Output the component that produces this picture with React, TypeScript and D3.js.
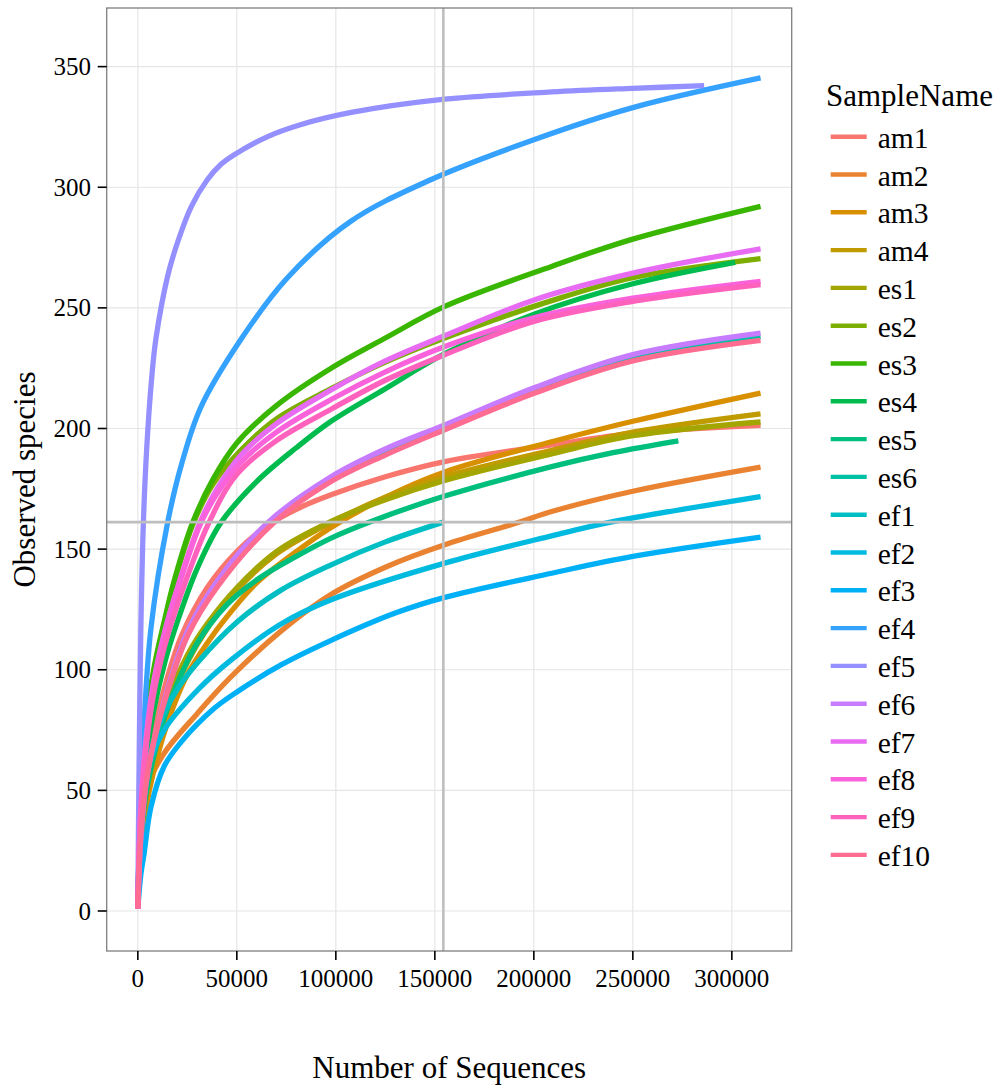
import React from "react";
import * as d3 from "d3";

// Rarefaction curves: observed species vs. number of sequences per sample.
type Pt = [number, number];

const sampleNames = [
  "am1", "am2", "am3", "am4",
  "es1", "es2", "es3", "es4", "es5", "es6",
  "ef1", "ef2", "ef3", "ef4", "ef5", "ef6", "ef7", "ef8", "ef9", "ef10",
];

const sampleColors = [
  "#F8766D", "#EA8331", "#D89000", "#C09B00", "#A3A500", "#7CAE00",
  "#39B600", "#00BB4E", "#00BF7D", "#00C1A3", "#00BFC4", "#00BAE0",
  "#00B0F6", "#35A2FF", "#9590FF", "#C77CFF", "#E76BF3", "#FA62DB",
  "#FF62BC", "#FF6C91",
];

const am1: Pt[] = [[1, 1], [1500, 32], [4000, 55], [8000, 74], [15000, 97], [22000, 114], [35000, 134], [50000, 149], [65000, 159.5], [80000, 166.5], [97600, 172.5], [125000, 180], [155000, 186.3], [209000, 193.2], [250000, 198], [314500, 201.3]];
const am2: Pt[] = [[1, 1], [1500, 28], [4900, 51.5], [13300, 65.4], [30200, 82], [47000, 97], [72300, 116], [97100, 131], [125000, 142.5], [155000, 151.8], [192000, 161], [209000, 165.6], [250000, 174], [314500, 184]];
const am3: Pt[] = [[1, 1], [1500, 25], [4000, 42], [8000, 58], [15000, 78], [25000, 98], [35000, 111], [45000, 122], [60000, 136], [80000, 149], [97600, 159], [125000, 171.5], [155000, 182], [209000, 194.5], [250000, 203], [314500, 214.7]];
const am4: Pt[] = [[1, 1], [1500, 28], [4000, 46], [8000, 63], [15000, 84], [25000, 103], [35000, 117], [50000, 133], [70000, 148], [97600, 161], [125000, 171.5], [155000, 180], [209000, 191], [250000, 198.5], [314500, 206.1]];
const es1: Pt[] = [[1, 1], [1500, 30], [4000, 49], [8000, 66], [15000, 87], [25000, 106], [35000, 119], [50000, 134], [70000, 149], [97600, 161.5], [125000, 170.5], [155000, 178.5], [209000, 189.5], [250000, 197], [314500, 202.7]];
const es2: Pt[] = [[1, 1], [1500, 45], [4500, 78], [8000, 99], [13600, 120], [18400, 136], [27700, 160], [38000, 177], [52100, 191], [70000, 204], [97600, 216.5], [125000, 227.5], [155000, 237.5], [209000, 253], [250000, 262.5], [314500, 270.4]];
const es3: Pt[] = [[1, 1], [1500, 45], [4500, 79], [8000, 100], [13600, 121], [18400, 137], [27700, 161], [38000, 179], [50000, 194], [70000, 209.5], [97600, 225], [125000, 237.5], [155000, 250.6], [209000, 267.2], [250000, 278.5], [314500, 292.1]];
const es4: Pt[] = [[1, 1], [1500, 37], [4500, 65], [8000, 83], [13600, 103], [20000, 120], [30000, 142], [42000, 161], [60000, 178], [80000, 192], [97600, 203], [125000, 216.5], [155000, 231], [200500, 247.5], [250000, 260], [301700, 268.9]];
const es5: Pt[] = [[1, 1], [1500, 30], [4000, 48], [8000, 64], [15000, 84], [30000, 111], [45000, 127], [60500, 137.5], [80000, 147], [97600, 154.6], [119500, 162], [155000, 172], [209000, 184.2], [240000, 190], [273000, 194.9]];
const es6: Pt[] = [[1, 1], [1500, 30], [4000, 51], [8000, 69], [15000, 91], [25100, 114.5], [40300, 135.5], [65600, 160], [97600, 179], [125000, 190.5], [155000, 200.5], [200500, 216], [250000, 229.5], [314500, 238.1]];
const ef1: Pt[] = [[1, 1], [1500, 32], [3500, 51], [6600, 66], [13300, 82], [20000, 92], [30200, 103], [50400, 120], [72300, 133], [97600, 143.5], [125000, 153], [154300, 161.2]];
const ef2: Pt[] = [[1, 1], [1500, 33], [4900, 58.5], [13300, 75], [30200, 91.6], [47000, 104], [72300, 119], [97600, 129], [155000, 144.2], [209000, 155.5], [237600, 161], [314500, 171.8]];
const ef3: Pt[] = [[1, 1], [1500, 15], [3200, 24], [6600, 43], [13300, 60], [21800, 70], [38600, 84], [50400, 91], [72300, 102], [97100, 112], [130000, 123.5], [155000, 130], [209000, 140], [250000, 147], [314500, 155]];
const ef4: Pt[] = [[1, 1], [1500, 52], [3200, 79], [6600, 117], [15000, 160.8], [22000, 185], [31900, 209], [52100, 237], [75000, 262], [107200, 285.7], [147600, 303], [200000, 319.7], [250000, 333], [314500, 345.3]];
const ef5: Pt[] = [[1, 1], [500, 50], [1500, 116], [2800, 161], [4500, 192], [6900, 220], [9100, 237], [15000, 263], [20000, 277], [27000, 292], [35000, 303], [42000, 309.5], [48700, 313.5], [65600, 321], [82500, 326], [107800, 331], [155000, 336.5], [209000, 339.5], [250000, 341], [286000, 342.1]];
const ef6: Pt[] = [[1, 1], [1500, 30], [4000, 52], [8000, 70], [15000, 92], [25100, 116], [40300, 137], [65600, 161], [97600, 180], [125000, 191.5], [155000, 201.5], [200500, 217], [250000, 230.6], [314500, 239.5]];
const ef7: Pt[] = [[1, 1], [1500, 42], [4500, 74], [8000, 95], [13600, 116], [20000, 134], [31400, 161], [40000, 175], [52100, 189], [70000, 202], [97600, 216], [125000, 228], [155000, 238.5], [200500, 253.4], [250000, 264.4], [314500, 274.5]];
const ef8: Pt[] = [[1, 1], [1500, 42], [4500, 73], [8000, 94], [13600, 115], [20000, 133], [31400, 160], [40000, 173], [52100, 186], [70000, 198.5], [97600, 212], [125000, 223.5], [155000, 234], [200500, 246], [250000, 254], [314500, 261]];
const ef9: Pt[] = [[1, 1], [1500, 40], [4500, 70], [8000, 90], [13600, 110], [20000, 127], [35900, 161], [50000, 181], [70000, 195], [97600, 208], [125000, 220], [155000, 230.6], [200500, 244.5], [250000, 252.7], [314500, 259.6]];
const ef10: Pt[] = [[1, 1], [1500, 31], [4000, 52], [8000, 70], [15000, 91], [25100, 114], [40300, 134.5], [68800, 161], [97600, 178], [125000, 189], [155000, 199.5], [200500, 214.7], [250000, 228], [314500, 236.5]];

const seriesBySample: Record<string, Pt[]> = {
  am1, am2, am3, am4, es1, es2, es3, es4, es5, es6,
  ef1, ef2, ef3, ef4, ef5, ef6, ef7, ef8, ef9, ef10,
};

const xTicks = [0, 50000, 100000, 150000, 200000, 250000, 300000];
const yTicks = [0, 50, 100, 150, 200, 250, 300, 350];

// Rarefaction cut-off (sequencing depth and species count) shown as crosshairs
const cutDepth = 154300;
const cutSpecies = 161.2;

const W = 1003;
const H = 1090;
const panel = { left: 106.7, right: 791.7, top: 8, bottom: 951 };
const serif = "'Liberation Serif', 'Times New Roman', Times, serif";

export default function App() {
  const x = d3.scaleLinear().domain([-15724, 330232]).range([panel.left, panel.right]);
  const y = d3.scaleLinear().domain([-16.58, 374.3]).range([panel.bottom, panel.top]);
  const line = d3
    .line<Pt>()
    .x((d) => x(d[0]))
    .y((d) => y(d[1]))
    .curve(d3.curveCatmullRom.alpha(0.5));

  const legendX = 830.7;
  const legendY0 = 136.7;
  const legendStep = 37.8;

  return (
    <svg
      width={W}
      height={H}
      viewBox={`0 0 ${W} ${H}`}
      style={{ position: "absolute", left: 0, top: 0, background: "#fff" }}
    >
      <rect x={0} y={0} width={W} height={H} fill="#fff" />
      {/* grid */}
      <g stroke="#E5E5E5" strokeWidth={1.2}>
        {xTicks.map((t) => (
          <line key={`gx${t}`} x1={x(t)} x2={x(t)} y1={panel.top} y2={panel.bottom} />
        ))}
        {yTicks.map((t) => (
          <line key={`gy${t}`} x1={panel.left} x2={panel.right} y1={y(t)} y2={y(t)} />
        ))}
      </g>
      {/* curves */}
      <g fill="none" strokeWidth={5.3} strokeLinecap="butt" strokeLinejoin="round">
        {sampleNames.map((name, i) => (
          <path key={name} d={line(seriesBySample[name]) || ""} stroke={sampleColors[i]} />
        ))}
      </g>
      {/* cut-off crosshairs */}
      <g stroke="#BEBEBE" strokeWidth={2.6}>
        <line x1={x(cutDepth)} x2={x(cutDepth)} y1={panel.top} y2={panel.bottom} />
        <line x1={panel.left} x2={panel.right} y1={y(cutSpecies)} y2={y(cutSpecies)} />
      </g>
      {/* panel border */}
      <rect
        x={panel.left}
        y={panel.top}
        width={panel.right - panel.left}
        height={panel.bottom - panel.top}
        fill="none"
        stroke="#7F7F7F"
        strokeWidth={1.3}
      />
      {/* axes */}
      <g stroke="#000" strokeWidth={1.6}>
        {xTicks.map((t) => (
          <line key={`tx${t}`} x1={x(t)} x2={x(t)} y1={panel.bottom} y2={panel.bottom + 9} />
        ))}
        {yTicks.map((t) => (
          <line key={`ty${t}`} x1={panel.left - 9} x2={panel.left} y1={y(t)} y2={y(t)} />
        ))}
      </g>
      <g fontFamily={serif} fontSize={25} fill="#000">
        {xTicks.map((t) => (
          <text key={`lx${t}`} x={x(t)} y={987} textAnchor="middle">
            {t}
          </text>
        ))}
        {yTicks.map((t) => (
          <text key={`ly${t}`} x={91} y={y(t) + 8.5} textAnchor="end">
            {t}
          </text>
        ))}
      </g>
      <text
        x={(panel.left + panel.right) / 2}
        y={1078}
        textAnchor="middle"
        fontFamily={serif}
        fontSize={31}
      >
        Number of Sequences
      </text>
      <text
        transform={`translate(35,${(panel.top + panel.bottom) / 2}) rotate(-90)`}
        textAnchor="middle"
        fontFamily={serif}
        fontSize={31}
      >
        Observed species
      </text>
      {/* legend */}
      <text x={826} y={106} fontFamily={serif} fontSize={31}>
        SampleName
      </text>
      {sampleNames.map((name, i) => {
        const cy = legendY0 + i * legendStep;
        return (
          <g key={`lg${name}`}>
            <line
              x1={legendX}
              x2={legendX + 36}
              y1={cy}
              y2={cy}
              stroke={sampleColors[i]}
              strokeWidth={4.4}
            />
            <text x={877.7} y={cy + 11} fontFamily={serif} fontSize={29.5}>
              {name}
            </text>
          </g>
        );
      })}
    </svg>
  );
}
